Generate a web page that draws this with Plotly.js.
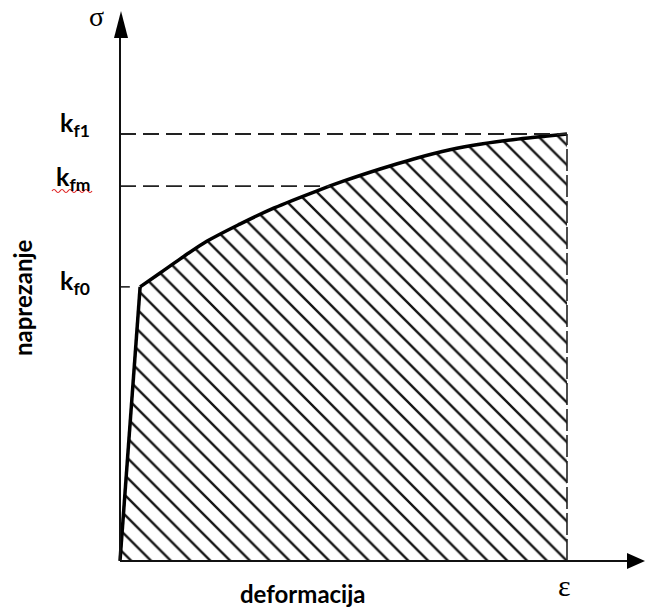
<!DOCTYPE html>
<html>
<head>
<meta charset="utf-8">
<script src="https://cdn.plot.ly/plotly-3.0.1.min.js"></script>
<style>html,body{margin:0;padding:0;background:#fff;}#chart{width:646px;height:608px;}</style>
</head>
<body>
<div id="chart"></div>
<script>
// Flow curve (strain normalised to end strain, stress to kf1)
const strain = [0, 0.045, 0.089, 0.134, 0.188, 0.268, 0.345, 0.441, 0.501, 0.582, 0.655, 0.738, 0.812, 0.890, 0.951, 1.0];
const stress = [0, 0.642, 0.674, 0.707, 0.745, 0.789, 0.827, 0.867, 0.890, 0.918, 0.941, 0.963, 0.977, 0.988, 0.995, 1.0];
const levelNames = ['k<sub>f1</sub>', 'k<sub>fm</sub>', 'k<sub>f0</sub>'];
const levelValues = [1.0, 0.878, 0.642];
const xLabel = 'deformacija';
const yLabel = 'naprezanje';
const xSymbol = 'ε';
const ySymbol = 'σ';

// ---- geometry (pixels) ----
const W = 646, H = 608;
const ML = 115, MR = 0, MT = 10, MB = 42;
const PW = W - ML - MR, PH = H - MT - MB;
const X0PX = 120, Y0PX = 561, PXX = 447, PXY = 427;   // origin pixel and pixels per unit
const xRange = [(ML - X0PX) / PXX, (W - MR - X0PX) / PXX];
const yRange = [(Y0PX - (H - MB)) / PXY, (Y0PX - MT) / PXY];
const px = p => (p - ML) / PW;           // pixel -> paper x
const py = p => (H - MB - p) / PH;       // pixel -> paper y

const kf1 = levelValues[0], kfm = levelValues[1], kf0 = levelValues[2];
const eEnd = strain[strain.length - 1];

// where the kfm level meets the curve
function strainAt(s) {
  for (let i = 1; i < stress.length; i++) {
    if (stress[i] >= s) {
      const t = (s - stress[i-1]) / (stress[i] - stress[i-1]);
      return strain[i-1] + t * (strain[i] - strain[i-1]);
    }
  }
  return eEnd;
}
const eFm = strainAt(kfm);

const traces = [
  { // hatched area under the curve
    x: strain.concat([eEnd, 0]), y: stress.concat([0, 0]),
    type: 'scatter', mode: 'lines', fill: 'toself', line: {width: 0},
    fillcolor: 'rgba(0,0,0,0)',
    fillpattern: {shape: '\\', size: 14, solidity: 0.17, fgcolor: '#151515', bgcolor: '#ffffff'},
    hoverinfo: 'skip'
  },
  { // elastic part
    x: strain.slice(0, 2), y: stress.slice(0, 2),
    type: 'scatter', mode: 'lines', line: {color: '#000', width: 3.5}
  },
  { // hardening curve
    x: strain.slice(1), y: stress.slice(1),
    type: 'scatter', mode: 'lines', line: {color: '#000', width: 3.5, shape: 'spline', smoothing: 1}
  },
  { // right boundary
    x: [eEnd, eEnd], y: [0, stress[stress.length - 1]],
    type: 'scatter', mode: 'lines', line: {color: '#222', width: 1.6, dash: '22px,4px'}
  },
  { // kf1 level
    x: [0, eEnd], y: [kf1, kf1],
    type: 'scatter', mode: 'lines', line: {color: '#222', width: 1.8, dash: '16px,7px'}
  },
  { // kfm level
    x: [0, eFm], y: [kfm, kfm],
    type: 'scatter', mode: 'lines', line: {color: '#222', width: 1.8, dash: '16px,7px'}
  },
  { // kf0 tick
    x: [0, 0.022], y: [kf0, kf0],
    type: 'scatter', mode: 'lines', line: {color: '#222', width: 1.6}
  },
  { // base line of the area
    x: [0, eEnd], y: [0, 0],
    type: 'scatter', mode: 'lines', line: {color: '#111', width: 2}
  }
];

// red wavy spell-check underline under "fm" (decoration, in pixels)
let wave = 'M0,0 Q2,3 4,0';
for (let i = 8; i <= 40; i += 4) wave += ' T' + i + ',0';

const shapes = [
  {type: 'line', xref: 'paper', yref: 'paper', x0: px(X0PX), y0: py(Y0PX), x1: px(X0PX), y1: py(30), line: {color: '#111', width: 2}},
  {type: 'line', xref: 'paper', yref: 'paper', x0: px(X0PX), y0: py(Y0PX), x1: px(630), y1: py(Y0PX), line: {color: '#111', width: 2}},
  {type: 'path', xref: 'paper', yref: 'paper', xsizemode: 'pixel', ysizemode: 'pixel',
   xanchor: px(X0PX + 1), yanchor: py(11), path: 'M0,0 L-7,-27 L7,-27 Z', fillcolor: '#000', line: {width: 0}},
  {type: 'path', xref: 'paper', yref: 'paper', xsizemode: 'pixel', ysizemode: 'pixel',
   xanchor: px(645), yanchor: py(Y0PX), path: 'M0,0 L-18,8 L-18,-8 Z', fillcolor: '#000', line: {width: 0}},
  {type: 'path', xref: 'paper', yref: 'paper', xsizemode: 'pixel', ysizemode: 'pixel',
   xanchor: px(52), yanchor: py(191), path: wave, fillcolor: 'rgba(0,0,0,0)', line: {color: '#e02424', width: 1.2}}
];

const labelFont = {family: 'Lato, "Open Sans", sans-serif', size: 25, color: '#000', weight: 'bold'};
const labelYpx = [124, 178, 282];
const annotations = levelNames.map((t, i) => ({
  text: t, x: px(92), y: py(labelYpx[i]), xref: 'paper', yref: 'paper', xanchor: 'right', yanchor: 'middle',
  showarrow: false, font: labelFont
}));
const txt = (text, cx, cy, font, extra) => Object.assign({
  text: text, x: px(cx), y: py(cy), xref: 'paper', yref: 'paper', xanchor: 'center', yanchor: 'middle',
  showarrow: false, font: font
}, extra || {});
annotations.push(
  txt(yLabel, 22, 298, {family: 'Lato, sans-serif', size: 24, color: '#000', weight: 'bold'}, {textangle: -90}),
  txt(xLabel, 303, 593, {family: 'Lato, sans-serif', size: 24, color: '#000', weight: 'bold'}),
  txt(xSymbol, 564, 585, {family: '"Liberation Serif", serif', size: 30, color: '#000'}),
  txt(ySymbol, 96, 16, {family: '"Liberation Serif", serif', size: 28, color: '#000'})
);

const layout = {
  width: W, height: H,
  margin: {l: ML, r: MR, t: MT, b: MB, pad: 0},
  paper_bgcolor: '#fff', plot_bgcolor: '#fff',
  showlegend: false,
  xaxis: {range: xRange, visible: false, showgrid: false, zeroline: false, fixedrange: true},
  yaxis: {range: yRange, visible: false, showgrid: false, zeroline: false, fixedrange: true},
  shapes: shapes,
  annotations: annotations
};

Plotly.newPlot('chart', traces, layout, {displayModeBar: false, staticPlot: true});
</script>
</body>
</html>
